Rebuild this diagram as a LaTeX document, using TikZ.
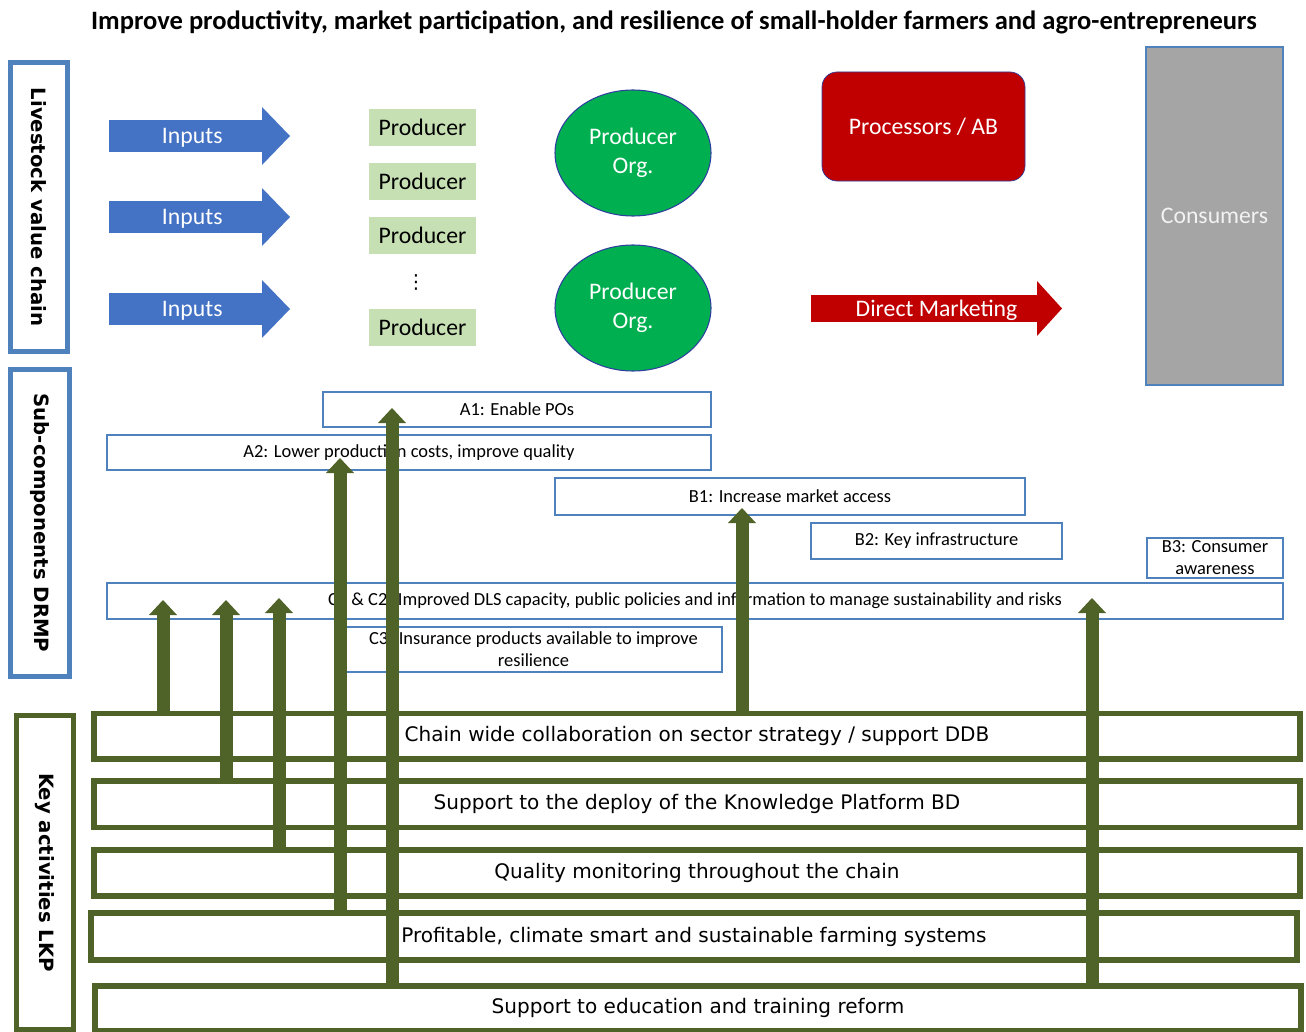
\documentclass[tikz,border=0pt]{standalone}
\usepackage{fontspec}
\setmainfont{Carlito}
\newfontfamily\verdfont{DejaVu Sans}
\usetikzlibrary{arrows.meta,shapes.geometric}
\definecolor{frameblue}{HTML}{4F81BD}
\definecolor{inblue}{HTML}{4472C4}
\definecolor{prodgreen}{HTML}{C6E0B4}
\definecolor{orggreen}{HTML}{00B050}
\definecolor{orgedge}{HTML}{2F3F9F}
\definecolor{procred}{HTML}{C00000}
\definecolor{consgray}{HTML}{A5A5A5}
\definecolor{olive}{HTML}{4F6228}
\tikzset{
    every node/.style={inner sep=0mm, outer sep=0mm},
    sidebox/.style={rectangle, line width=0.1cm, rotate=-90,
        minimum height=1.14cm, font=\verdfont\bfseries\fontsize{11.2}{13}\selectfont},
    bigtext/.style={font=\fontsize{13.5}{16.4}\selectfont},
    intext/.style={bigtext, text=white},
    inarrow/.style={inblue, line width=0.64cm,
        -{Triangle[width=1.16cm, length=0.56cm, line width=0pt]}},
    dmarrow/.style={procred, line width=0.54cm,
        -{Triangle[width=1.10cm, length=0.50cm, line width=0pt]}},
    prodbox/.style={rectangle, fill=prodgreen, bigtext,
        minimum width=2.14cm, minimum height=0.74cm},
    orgell/.style={ellipse, fill=orggreen, draw=orgedge, line width=0.6pt,
        minimum width=3.12cm, minimum height=2.52cm, intext, align=center},
    subbox/.style={rectangle, draw=frameblue, line width=0.03cm, align=center,
        font=\fontsize{10.5}{12.5}\selectfont},
    keybox/.style={rectangle, draw=olive, line width=0.11cm,
        minimum width=24.12cm, font=\verdfont\fontsize{11.4}{13}\selectfont},
    garrow/.style={olive, line width=0.26cm,
        -{Triangle[width=0.56cm, length=0.30cm, line width=0pt]}}
}

\begin{document}
\begin{tikzpicture}
    \useasboundingbox (0,0) rectangle (26.12,-20.64);

    \node (title) at (13.48,-0.44) [font=\bfseries\fontsize{15.1}{18}\selectfont]
        {Improve productivity, market participation, and resilience of small-holder farmers and agro-entrepreneurs};

    % row labels
    \node (lvc) at (0.78,-4.14) [sidebox, draw=frameblue, minimum width=5.78cm] {Livestock value chain};
    \node (drmp) at (0.80,-10.46) [sidebox, draw=frameblue, minimum width=6.14cm, minimum height=1.18cm] {Sub-components DRMP};
    \node (lkp) at (0.90,-17.45) [sidebox, draw=olive, minimum width=6.28cm] {Key activities LKP};

    % value chain
    \draw[inarrow] (2.18,-2.72) -- node[intext, pos=0.46, yshift=-0.04cm] (in1) {Inputs} (5.80,-2.72);
    \draw[inarrow] (2.18,-4.34) -- node[intext, pos=0.46, yshift=-0.04cm] (in2) {Inputs} (5.80,-4.34);
    \draw[inarrow] (2.18,-6.18) -- node[intext, pos=0.46, yshift=-0.04cm] (in3) {Inputs} (5.80,-6.18);

    \node (p1) at (8.45,-2.55) [prodbox] {Producer};
    \node (p2) at (8.45,-3.63) [prodbox] {Producer};
    \node (p3) at (8.45,-4.71) [prodbox] {Producer};
    \node (pdots) at (8.32,-5.64) [font=\verdfont\fontsize{11}{13}\selectfont] {⋮};
    \node (p4) at (8.45,-6.55) [prodbox] {Producer};

    \node (po1) at (12.66,-3.06) [orgell] {Producer\\Org.};
    \node (po2) at (12.66,-6.16) [orgell] {Producer\\Org.};

    \node (proc) at (18.47,-2.53) [rectangle, rounded corners=0.3cm, fill=procred,
        draw=orgedge, line width=0.4pt, minimum width=4.06cm, minimum height=2.18cm, intext]
        {Processors / AB};
    \draw[dmarrow] (16.22,-6.17) -- node[intext, yshift=-0.04cm] (dm) {Direct Marketing} (21.24,-6.17);

    \node (cons) at (24.29,-4.32) [rectangle, fill=consgray, draw=frameblue, line width=0.6pt,
        minimum width=2.74cm, minimum height=6.76cm, bigtext, text=white!95!black] {Consumers};

    % sub-components
    \node (a1) at (10.34,-8.19) [subbox, minimum width=7.76cm, minimum height=0.70cm] {A1: Enable POs};
    \node (a2) at (8.18,-9.05) [subbox, minimum width=12.08cm, minimum height=0.70cm] {A2: Lower production costs, improve quality};
    \node (b1) at (15.80,-9.93) [subbox, minimum width=9.40cm, minimum height=0.74cm] {B1: Increase market access};
    \node (b2) at (18.73,-10.82) [subbox, minimum width=5.02cm, minimum height=0.72cm] {B2: Key infrastructure};
    \node (b3) at (24.30,-11.16) [subbox, minimum width=2.72cm, minimum height=0.80cm] {B3: Consumer\\awareness};
    \node (c12) at (13.90,-12.02) [subbox, minimum width=23.52cm, minimum height=0.72cm]
        {C1 \& C2: Improved DLS capacity, public policies and information to manage sustainability and risks};
    \node (c3) at (10.67,-12.99) [subbox, minimum width=7.54cm, minimum height=0.90cm]
        {C3: Insurance products available to improve\\resilience};

    % key activities
    \node (k1) at (13.94,-14.72) [keybox, minimum height=0.91cm] {Chain wide collaboration on sector strategy / support DDB};
    \node (k2) at (13.94,-16.08) [keybox, minimum height=0.93cm] {Support to the deploy of the Knowledge Platform BD};
    \node (k3) at (13.94,-17.46) [keybox, minimum height=0.92cm] {Quality monitoring throughout the chain};
    \node (k4) at (13.88,-18.73) [keybox, minimum height=0.94cm] {Profitable, climate smart and sustainable farming systems};
    \node (k5) at (13.96,-20.16) [keybox, minimum height=0.89cm] {Support to education and training reform};

    \coordinate (t1) at (3.26,-12.00);
    \coordinate (t2) at (4.52,-12.00);
    \coordinate (t3) at (5.58,-11.96);
    \coordinate (t4) at (6.80,-9.16);
    \coordinate (t5) at (7.84,-8.16);
    \coordinate (t6) at (14.84,-10.16);
    \coordinate (t7) at (21.84,-11.96);

    \draw[garrow] (t1 |- k1.north) -- (t1);
    \draw[garrow] (t2 |- k2.north) -- (t2);
    \draw[garrow] (t3 |- k3.north) -- (t3);
    \draw[garrow] (t4 |- k4.north) -- (t4);
    \draw[garrow] (t5 |- k5.north) -- (t5);
    \draw[garrow] (t6 |- k1.north) -- (t6);
    \draw[garrow] (t7 |- k5.north) -- (t7);
\end{tikzpicture}
\end{document}
